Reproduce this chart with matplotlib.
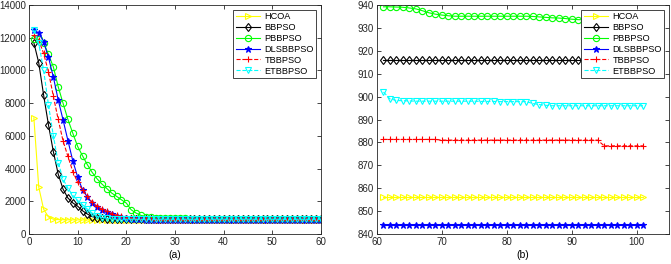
import matplotlib
matplotlib.use("Agg")
import matplotlib.pyplot as plt
import numpy as np

plt.rcParams['font.family'] = ['Liberation Sans', 'DejaVu Sans']

names = ["HCOA", "BBPSO", "PBBPSO", "DLSBBPSO", "TBBPSO", "ETBBPSO"]

# ---- (a) iterations 1..60 ----
iters_a = list(range(1, 61))
hcoa_a = [7100, 2870, 1520, 1040, 900, 880, 870, 866, 863, 861, 860, 859, 858, 858, 857, 857] + [856] * 44
bbpso_a = [11690, 10470, 8500, 6670, 5040, 3660, 2740, 2200, 1900, 1700, 1420, 1220, 1060, 990, 955,
           940, 932, 927, 924, 922, 920, 919, 918, 917, 917] + [916] * 35
pbbpso_a = [11950, 11900, 11700, 10980, 10220, 9000, 7990, 7000, 6160, 5350, 4780, 4230, 3760, 3370,
            3050, 2780, 2500, 2300, 2090, 1890, 1480, 1280, 1140, 1060, 1020, 1000, 985, 970, 960, 955,
            950, 948, 946, 945, 944, 943, 942, 941, 941, 940] + [939.5] * 20
dls_a = [12460, 12300, 11750, 10800, 9600, 8200, 6970, 5710, 4470, 3480, 2700, 2260, 1900, 1650, 1480,
         1350, 1230, 1120, 1040, 980, 940, 910, 890, 876, 866, 860, 855, 851, 849, 847, 846, 845] + [844.5] * 28
tbbpso_a = [12150, 11850, 11040, 9920, 8430, 7000, 5690, 4740, 3820, 3150, 2700, 2300, 1930, 1690,
            1520, 1380, 1250, 1150, 1070, 1000, 950, 920, 900, 892, 887, 884, 883, 882] + [881.5] * 32
etbbpso_a = [12460, 11650, 10020, 7890, 6000, 4370, 3350, 2800, 2360, 2050, 1790, 1520, 1280, 1080,
             1000, 960, 930, 915, 908, 904, 902, 901, 900, 900, 899, 899] + [902] * 34

# ---- (b) iterations 61..101 ----
iters_b = list(range(61, 102))
hcoa_b = [856] * 41
bbpso_b = [916] * 41
pbbpso_b = [939.2, 939.2, 939.1, 939.0, 938.7, 938.3, 937.5, 936.6, 936.0, 935.6, 935.3,
            935.1, 935.1, 935.1, 935.1, 935.1, 935.1, 935.1, 935.1, 935.1, 935.1, 935.1, 935.1,
            935.0, 934.8, 934.6, 934.4, 934.3, 934.1, 933.8, 933.6, 933.5,
            933.4, 933.3, 933.2, 933.1, 933.0, 933.0, 932.9, 932.9, 932.8]
dls_b = [844] * 41
tbbpso_b = [881.3] * 9 + [881.0] * 25 + [878.5] * 7
etbbpso_b = [902.0, 899.0, 898.3, 898.2, 898.1, 898.0, 898.0, 898.0, 898.0, 898.0, 898.0, 898.0,
             898.0, 898.0, 898.0, 897.9, 897.9, 897.9, 897.8, 897.8, 897.8, 897.8, 897.8,
             897.0, 896.5, 896.2, 896.0, 896.0, 896.0, 896.0, 896.0, 896.0, 896.0, 896.0,
             896.0, 896.0, 896.0, 896.0, 896.0, 896.0, 896.0]

styles = [
    dict(color="#FFFF00", ls="-", marker=">", mfc="none"),
    dict(color="black", ls="-", marker="d", mfc="none"),
    dict(color="#00FF00", ls="-", marker="o", mfc="none"),
    dict(color="#0000FF", ls="-", marker="*", mfc="#0000FF"),
    dict(color="#FF0000", ls="--", marker="+", mfc="none"),
    dict(color="#00FFFF", ls="--", marker="v", mfc="none"),
]

fig = plt.figure(figsize=(6.71, 2.64), dpi=100)
ax1 = fig.add_axes([29 / 671, 30 / 264, 292 / 671, 229 / 264])
ax2 = fig.add_axes([377 / 671, 30 / 264, 292 / 671, 229 / 264])

data_a = [hcoa_a, bbpso_a, pbbpso_a, dls_a, tbbpso_a, etbbpso_a]
data_b = [hcoa_b, bbpso_b, pbbpso_b, dls_b, tbbpso_b, etbbpso_b]

for name, ys, st in zip(names, data_a, styles):
    ax1.plot(iters_a, ys, label=name, lw=0.8, ms=4.5, mew=0.8, **st)
for name, ys, st in zip(names, data_b, styles):
    ax2.plot(iters_b, ys, label=name, lw=0.8, ms=4.5, mew=0.8, **st)

ax1.set_xlim(0, 60)
ax1.set_ylim(0, 14000)
ax1.set_xticks(range(0, 61, 10))
ax1.set_yticks(range(0, 14001, 2000))
ax1.set_xlabel("(a)", fontsize=7.5, labelpad=2)

ax2.set_xlim(60, 105)
ax2.set_ylim(840, 940)
ax2.set_xticks(range(60, 101, 10))
ax2.set_yticks(range(840, 941, 10))
ax2.set_xlabel("(b)", fontsize=7.5, labelpad=2)

for ax in (ax1, ax2):
    ax.tick_params(direction="in", top=True, right=True, labelsize=7, length=3, width=0.6,
                   colors="#262626", pad=2)
    for sp in ax.spines.values():
        sp.set_linewidth(0.6)
        sp.set_color("#262626")
    leg = ax.legend(loc="upper right", fontsize=6.6, frameon=True, fancybox=False,
                    edgecolor="#262626", handlelength=2.6, borderpad=0.3, labelspacing=0.2,
                    handletextpad=0.5, borderaxespad=0.5, framealpha=1)
    leg.get_frame().set_linewidth(0.6)

fig.savefig("out.png", dpi=100)
